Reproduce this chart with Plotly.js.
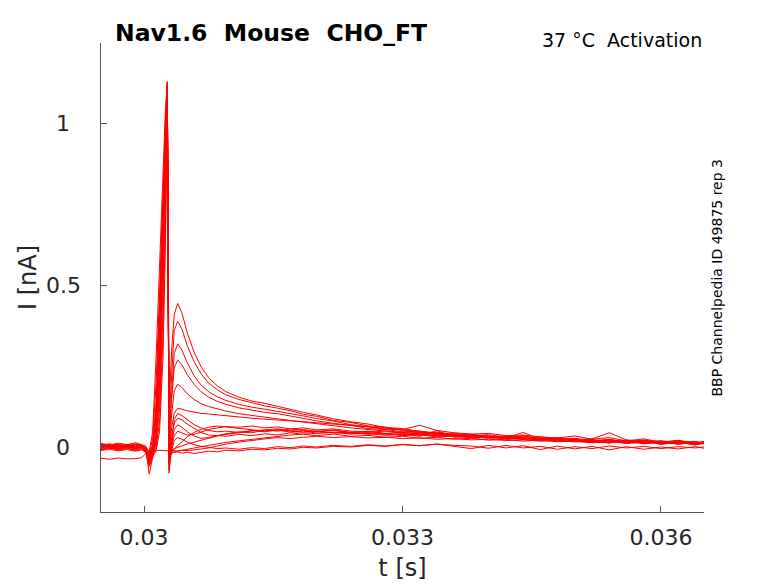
<!DOCTYPE html>
<html>
<head>
<meta charset="utf-8">
<script src="https://cdn.plot.ly/plotly-3.0.1.min.js"></script>
<style>
  html, body { margin: 0; padding: 0; background: #fff; }
  #chart { width: 778px; height: 583px; }
</style>
</head>
<body>
<div id="chart"></div>
<script>
/*** DATA ***/

// sample times [s], shared by every sweep
var t_s = [0.02950, 0.02960, 0.02970, 0.02980, 0.02990, 0.02997, 0.03002, 0.03006, 0.03010, 0.03014,
    0.03018, 0.03022, 0.03025, 0.03027, 0.03029, 0.03032, 0.03035, 0.03039, 0.03044, 0.03050,
    0.03058, 0.03066, 0.03075, 0.03085, 0.03095, 0.03110, 0.03125, 0.03140, 0.03155, 0.03170,
    0.03185, 0.03200, 0.03220, 0.03240, 0.03260, 0.03280, 0.03300, 0.03320, 0.03340, 0.03360,
    0.03380, 0.03400, 0.03420, 0.03440, 0.03460, 0.03480, 0.03500, 0.03520, 0.03540, 0.03560,
    0.03580, 0.03600, 0.03620, 0.03640, 0.03650];

// current [nA] for each sweep
var sweep_a = [0.006, 0.011, 0.004, 0.009, 0.003, 0.007, -0.004, -0.028, 0.01, 0.12,
    0.40, 0.76, 0.98, 1.13, 0.12, 0.30, 0.41, 0.445, 0.415, 0.355,
    0.295, 0.25, 0.215, 0.19, 0.172, 0.155, 0.143, 0.136, 0.126, 0.118,
    0.108, 0.1, 0.088, 0.079, 0.072, 0.061, 0.058, 0.049, 0.046, 0.041,
    0.036, 0.039, 0.031, 0.028, 0.033, 0.022, 0.028, 0.017, 0.025, 0.014,
    0.023, 0.012, 0.021, 0.01, 0.016];
var sweep_b = [0.002, -0.003, 0.006, 0.001, 0.008, 0.002, -0.006, -0.035, -0.005, 0.06,
    0.30, 0.66, 0.95, 1.12, 0.08, 0.24, 0.36, 0.39, 0.365, 0.315,
    0.265, 0.228, 0.198, 0.178, 0.162, 0.148, 0.137, 0.128, 0.121, 0.113,
    0.102, 0.096, 0.083, 0.077, 0.066, 0.063, 0.052, 0.05, 0.042, 0.044,
    0.035, 0.033, 0.035, 0.027, 0.024, 0.027, 0.018, 0.024, 0.013, 0.022,
    0.011, 0.019, 0.009, 0.017, 0.011];
var sweep_c = [-0.004, 0.003, -0.002, 0.004, -0.001, 0.005, -0.008, -0.04, -0.01, 0.03,
    0.22, 0.58, 0.90, 1.10, 0.04, 0.18, 0.29, 0.32, 0.30, 0.262,
    0.222, 0.193, 0.172, 0.156, 0.145, 0.133, 0.124, 0.118, 0.11, 0.104,
    0.097, 0.089, 0.081, 0.07, 0.064, 0.056, 0.054, 0.045, 0.047, 0.038,
    0.04, 0.032, 0.03, 0.036, 0.025, 0.02, 0.027, 0.016, 0.024, 0.013,
    0.02, 0.01, 0.018, 0.008, 0.013];
var sweep_d = [0.009, 0.004, 0.01, 0.005, 0.011, 0.006, 0.0, -0.022, 0.03, 0.2,
    0.48, 0.82, 1.02, 1.11, 0.02, 0.15, 0.245, 0.27, 0.255, 0.225,
    0.195, 0.172, 0.155, 0.142, 0.133, 0.122, 0.115, 0.108, 0.104, 0.096,
    0.09, 0.082, 0.074, 0.068, 0.058, 0.055, 0.048, 0.05, 0.041, 0.037,
    0.039, 0.031, 0.034, 0.026, 0.028, 0.019, 0.026, 0.016, 0.014, 0.022,
    0.011, 0.018, 0.01, 0.016, 0.012];
var sweep_e = [0.0, 0.005, -0.003, 0.002, -0.005, 0.001, -0.01, -0.045, -0.015, 0.02,
    0.16, 0.5, 0.85, 1.08, -0.01, 0.1, 0.175, 0.195, 0.185, 0.166,
    0.148, 0.135, 0.126, 0.118, 0.112, 0.104, 0.098, 0.092, 0.088, 0.083,
    0.078, 0.072, 0.067, 0.06, 0.055, 0.05, 0.047, 0.042, 0.044, 0.036,
    0.033, 0.036, 0.028, 0.03, 0.021, 0.029, 0.018, 0.015, 0.024, 0.012,
    0.02, 0.009, 0.016, 0.007, 0.014];
var sweep_f = [0.012, 0.007, 0.013, 0.008, 0.014, 0.009, 0.004, -0.015, 0.05, 0.28,
    0.58, 0.9, 1.06, 1.12, -0.03, 0.06, 0.105, 0.12, 0.118, 0.113,
    0.108, 0.105, 0.103, 0.1, 0.097, 0.094, 0.09, 0.087, 0.085, 0.081,
    0.079, 0.076, 0.072, 0.068, 0.062, 0.058, 0.055, 0.068, 0.052, 0.045,
    0.041, 0.043, 0.036, 0.038, 0.032, 0.029, 0.035, 0.025, 0.03, 0.02,
    0.026, 0.016, 0.022, 0.013, 0.018];
var sweep_g = [-0.006, -0.001, -0.007, -0.002, -0.008, -0.003, -0.012, -0.05, -0.02, 0.01,
    0.12, 0.42, 0.78, 1.09, -0.08, 0.02, 0.085, 0.105, 0.098, 0.085,
    0.07, 0.06, 0.052, 0.048, 0.05, 0.046, 0.052, 0.048, 0.055, 0.05,
    0.046, 0.051, 0.044, 0.047, 0.04, 0.043, 0.036, 0.039, 0.032, 0.035,
    0.029, 0.031, 0.026, 0.03, 0.024, 0.027, 0.021, 0.024, 0.018, 0.02,
    0.016, 0.019, 0.013, 0.017, 0.012];
var sweep_h = [0.003, 0.008, 0.002, 0.007, 0.001, 0.006, -0.002, -0.03, 0.0, 0.09,
    0.36, 0.72, 0.97, 1.06, -0.04, 0.03, 0.075, 0.09, 0.085, 0.072,
    0.058, 0.046, 0.038, 0.036, 0.042, 0.048, 0.045, 0.053, 0.05, 0.057,
    0.052, 0.048, 0.054, 0.046, 0.05, 0.043, 0.046, 0.04, 0.036, 0.039,
    0.032, 0.034, 0.028, 0.046, 0.025, 0.022, 0.026, 0.02, 0.023, 0.017,
    0.015, 0.018, 0.012, 0.015, 0.011];
var sweep_i = [-0.002, 0.004, -0.004, 0.003, -0.003, 0.002, -0.006, -0.083, -0.03, 0.02,
    0.2, 0.6, 0.93, 1.1, -0.06, 0.01, 0.055, 0.07, 0.062, 0.048,
    0.035, 0.028, 0.03, 0.037, 0.034, 0.04, 0.036, 0.042, 0.038, 0.045,
    0.04, 0.036, 0.041, 0.034, 0.037, 0.031, 0.034, 0.028, 0.031, 0.025,
    0.028, 0.022, 0.025, 0.019, 0.022, 0.017, 0.02, 0.014, 0.018, 0.012,
    0.015, 0.011, 0.014, 0.009, 0.012];
var sweep_j = [0.007, 0.002, 0.008, 0.003, 0.009, 0.004, -0.003, -0.035, 0.005, 0.14,
    0.44, 0.8, 1.0, 1.12, -0.05, 0.0, 0.035, 0.05, 0.045, 0.038,
    0.04, 0.047, 0.055, 0.06, 0.064, 0.062, 0.066, 0.06, 0.063, 0.057,
    0.06, 0.054, 0.057, 0.05, 0.047, 0.05, 0.043, 0.046, 0.039, 0.036,
    0.04, 0.033, 0.03, 0.034, 0.027, 0.029, 0.024, 0.026, 0.045, 0.023,
    0.018, 0.02, 0.015, 0.018, 0.014];
var sweep_k = [-0.008, -0.003, -0.009, -0.004, -0.01, -0.005, -0.013, -0.055, -0.025, 0.0,
    0.08, 0.35, 0.72, 1.07, -0.035, -0.015, -0.005, 0.005, 0.018, 0.032,
    0.046, 0.056, 0.062, 0.066, 0.063, 0.058, 0.055, 0.05, 0.053, 0.047,
    0.05, 0.044, 0.047, 0.041, 0.043, 0.037, 0.04, 0.034, 0.052, 0.031,
    0.033, 0.028, 0.03, 0.025, 0.027, 0.022, 0.024, 0.019, 0.021, 0.017,
    0.019, 0.015, 0.017, 0.013, 0.015];
var sweep_l = [0.004, -0.001, 0.005, 0.0, 0.006, 0.001, -0.005, -0.03, 0.0, 0.06,
    0.3, 0.68, 0.96, 1.11, -0.02, -0.01, -0.004, 0.0, 0.004, 0.01,
    0.016, 0.022, 0.028, 0.035, 0.04, 0.046, 0.05, 0.054, 0.057, 0.052,
    0.055, 0.049, 0.052, 0.045, 0.048, 0.042, 0.038, 0.041, 0.035, 0.037,
    0.031, 0.034, 0.028, 0.025, 0.028, 0.023, 0.025, 0.02, 0.022, 0.018,
    0.02, 0.016, 0.018, 0.014, 0.016];
var sweep_m = [-0.003, 0.002, -0.005, 0.001, -0.004, 0.0, -0.008, -0.04, -0.01, 0.04,
    0.25, 0.62, 0.92, 1.09, -0.025, -0.018, -0.014, -0.012, -0.009, -0.006,
    -0.002, 0.002, 0.006, 0.011, 0.015, 0.02, 0.025, 0.03, 0.034, 0.038,
    0.041, 0.044, 0.046, 0.042, 0.045, 0.04, 0.042, 0.037, 0.039, 0.033,
    0.035, 0.03, 0.032, 0.027, 0.029, 0.024, 0.026, 0.021, 0.023, 0.019,
    0.021, 0.016, 0.018, 0.014, 0.016];
var sweep_n = [0.001, 0.006, 0.0, 0.005, -0.001, 0.004, -0.004, -0.038, -0.008, 0.1,
    0.38, 0.74, 0.99, 1.13, -0.015, -0.012, -0.016, -0.014, -0.018, -0.015,
    -0.019, -0.016, -0.012, -0.014, -0.009, -0.011, -0.006, -0.008, -0.003, -0.005,
    0.0, -0.002, 0.003, 0.001, 0.006, 0.003, 0.008, 0.005, 0.01, 0.006,
    0.004, -0.003, 0.006, -0.002, 0.003, -0.006, 0.002, -0.004, 0.004, -0.002,
    0.003, -0.004, 0.002, -0.002, 0.001];
var sweep_o = [-0.034, -0.037, -0.033, -0.036, -0.035, -0.032, -0.02, -0.012, -0.01, -0.011,
    -0.009, -0.01, -0.011, -0.01, -0.01, -0.012, -0.01, -0.011, -0.009, -0.01,
    -0.008, -0.006, -0.002, 0.004, 0.01, 0.016, 0.022, 0.026, 0.03, 0.027,
    0.031, 0.034, 0.03, 0.033, 0.029, 0.031, 0.027, 0.029, 0.025, 0.027,
    0.023, 0.025, 0.021, 0.023, 0.019, 0.021, 0.017, 0.019, 0.015, 0.017,
    0.013, 0.015, 0.012, 0.014, 0.011];
var sweep_p = [-0.01, -0.006, -0.011, -0.007, -0.012, -0.008, -0.015, -0.06, -0.03, -0.01,
    0.05, 0.28, 0.66, 1.05, -0.07, -0.01, 0.02, 0.03, 0.025, 0.016,
    0.008, 0.003, 0.0, -0.004, -0.002, -0.006, -0.001, -0.004, 0.002, -0.001,
    0.004, 0.001, 0.006, 0.003, 0.008, 0.004, 0.009, 0.005, 0.01, 0.002,
    -0.004, 0.006, -0.002, 0.005, -0.007, 0.004, -0.005, 0.003, -0.008, 0.002,
    -0.006, 0.001, -0.005, 0.002, -0.003];

var sweeps = [sweep_a, sweep_b, sweep_c, sweep_d, sweep_e, sweep_f, sweep_g, sweep_h,
    sweep_i, sweep_j, sweep_k, sweep_l, sweep_m, sweep_n, sweep_o, sweep_p];

// axis ticks
var x_ticks = [0.03, 0.033, 0.036];
var x_tick_labels = ['0.03', '0.033', '0.036'];
var y_ticks = [0, 0.5, 1];
var y_tick_labels = ['0', '0.5', '1'];

var title_text = 'Nav1.6  Mouse  CHO_FT';
var temp_text = '37 °C  Activation';
var id_text = 'BBP Channelpedia ID 49875 rep 3';


/*** PLOT ***/
var font_family = 'DejaVu Sans, sans-serif';
var text_color = '#262626';

// one red line per sweep
var data = sweeps.map(function (y) {
    return {
        x: t_s,
        y: y,
        type: 'scatter',
        mode: 'lines',
        line: { color: '#ff0000', width: 1 },
        hoverinfo: 'skip'
    };
});

// y tick labels are centred in the reference, so draw them as annotations on the y scale
var annotations = y_ticks.map(function (v, i) {
    return {
        xref: 'paper', yref: 'y',
        x: -0.063, y: v,
        xanchor: 'center', yanchor: 'middle',
        text: y_tick_labels[i],
        showarrow: false,
        font: { family: font_family, size: 22, color: text_color }
    };
});

annotations.push({
    xref: 'paper', yref: 'paper',
    x: 1, y: 1.0064,
    xanchor: 'right', yanchor: 'middle',
    text: temp_text,
    showarrow: false,
    font: { family: font_family, size: 19, color: '#000' }
});

annotations.push({
    xref: 'paper', yref: 'paper',
    x: 1.02, y: 0.5,
    xanchor: 'center', yanchor: 'middle',
    textangle: -90,
    text: id_text,
    showarrow: false,
    font: { family: font_family, size: 14, color: '#000' }
});

var layout = {
    width: 778,
    height: 583,
    margin: { l: 101, r: 74, t: 43, b: 71 },
    paper_bgcolor: '#fff',
    plot_bgcolor: '#fff',
    showlegend: false,
    title: {
        text: '<b>' + title_text + '</b>',
        x: 115 / 778,
        xanchor: 'left',
        xref: 'container',
        y: 1 - 33 / 583,
        yanchor: 'middle',
        yref: 'container',
        font: { family: font_family, size: 23.5, color: '#000' }
    },
    xaxis: {
        range: [0.0295, 0.0365],
        tickvals: x_ticks,
        ticktext: x_tick_labels,
        ticks: 'inside',
        ticklen: 6,
        tickcolor: '#555',
        ticklabelstandoff: 6,
        showline: true,
        linecolor: '#555',
        linewidth: 1,
        showgrid: false,
        zeroline: false,
        tickfont: { family: font_family, size: 22, color: text_color },
        title: {
            text: 't [s]',
            standoff: 9,
            font: { family: font_family, size: 24, color: text_color }
        }
    },
    yaxis: {
        range: [-0.2, 1.25],
        tickvals: y_ticks,
        ticks: 'inside',
        ticklen: 6,
        tickcolor: '#555',
        showticklabels: false,
        showline: true,
        linecolor: '#555',
        linewidth: 1,
        showgrid: false,
        zeroline: false,
        title: {
            text: 'I [nA]',
            standoff: 56,
            font: { family: font_family, size: 24, color: text_color }
        }
    },
    annotations: annotations
};

Plotly.newPlot('chart', data, layout, { staticPlot: true });
</script>
</body>
</html>
